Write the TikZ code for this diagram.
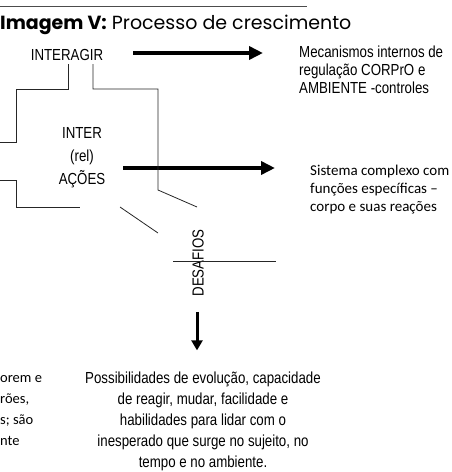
\documentclass[tikz,border=0pt]{standalone}
\usepackage{fontspec}
\usepackage{tikz}
\usetikzlibrary{arrows.meta,calc}
\newfontfamily\narrowfont[FakeStretch=0.83]{Liberation Sans}
\newfontfamily\calfont{Carlito}
\newfontfamily\titlefont{Poppins}

\begin{document}
\begin{tikzpicture}[x=1pt, y=-1pt,
	txt/.style={inner sep=0pt, font=\narrowfont\fontsize{16}{18}\selectfont},
	caltxt/.style={inner sep=0pt, align=left, font=\calfont\fontsize{15}{18}\selectfont},
	wire/.style={line width=0.8pt, black!85},
	bigarrow/.style={line width=4pt, -{Triangle[length=14pt,width=13pt]}},
	downarrow/.style={line width=3pt, -{Triangle[length=10pt,width=11pt]}}]

	\useasboundingbox (0,0) rectangle (452,472);

	\draw[line width=1pt, black!70] (0,6) -- (307,6);
	\node[inner sep=0pt, anchor=west, font=\titlefont\fontsize{19}{22}\selectfont] (title) at (0,25)
	      {\textbf{Imagem V:} Processo de crescimento};

	\node[txt] (interagir) at (67,55) {INTERAGIR};
	\node[txt, align=left, anchor=west] (mec) at (299,70)
	      {Mecanismos internos de\\regulação CORPrO e\\AMBIENTE -controles};
	\node[txt, align=center, font=\narrowfont\fontsize{16}{23}\selectfont] (inter) at (82,158)
	      {INTER\\(rel)\\AÇÕES};
	\node[caltxt, anchor=west] (sis) at (310,190)
	      {Sistema complexo com\\funções específicas –\\corpo e suas reações};
	\node[txt, rotate=90] (desafios) at (198,263) {DESAFIOS};
	\node[txt, align=center, font=\narrowfont\fontsize{16}{21}\selectfont] (poss) at (203,421)
	      {Possibilidades de evolução, capacidade\\de reagir, mudar, facilidade e\\habilidades para lidar com o\\inesperado que surge no sujeito, no\\tempo e no ambiente.};
	\node[caltxt, anchor=west, font=\calfont\fontsize{14.5}{21}\selectfont] (frag) at (0,411)
	      {orem e\\rões,\\s; são\\nte};

	% arrows
	\draw[bigarrow, shorten <=30pt, shorten >=36pt] ($(interagir.east)+(0,-2)$)
	      -- ($(interagir.east -| mec.west)+(0,-2)$);
	\draw[bigarrow, shorten <=18pt, shorten >=35pt] ($(inter.east)+(0,10)$)
	      -- ($(inter.east -| sis.west)+(0,10)$);
	\draw[downarrow, shorten <=15pt, shorten >=21pt] ($(desafios.west)+(-1,0)$)
	      -- ($(desafios.west |- poss.north)+(-1,0)$);

	% lines
	\draw[wire] (68,64) -- (68,89) -- (16,89) -- (16,142) -- (0,142);
	\draw[wire] (93,64) -- (93,89) -- (158,89) -- (158,190) -- (197,207);
	\draw[wire] (0,180) -- (16,180) -- (16,207) -- (80,207);
	\draw[wire] (120,207) -- (158,233);
	\draw[wire] (173,261) -- (276,261);
\end{tikzpicture}
\end{document}
